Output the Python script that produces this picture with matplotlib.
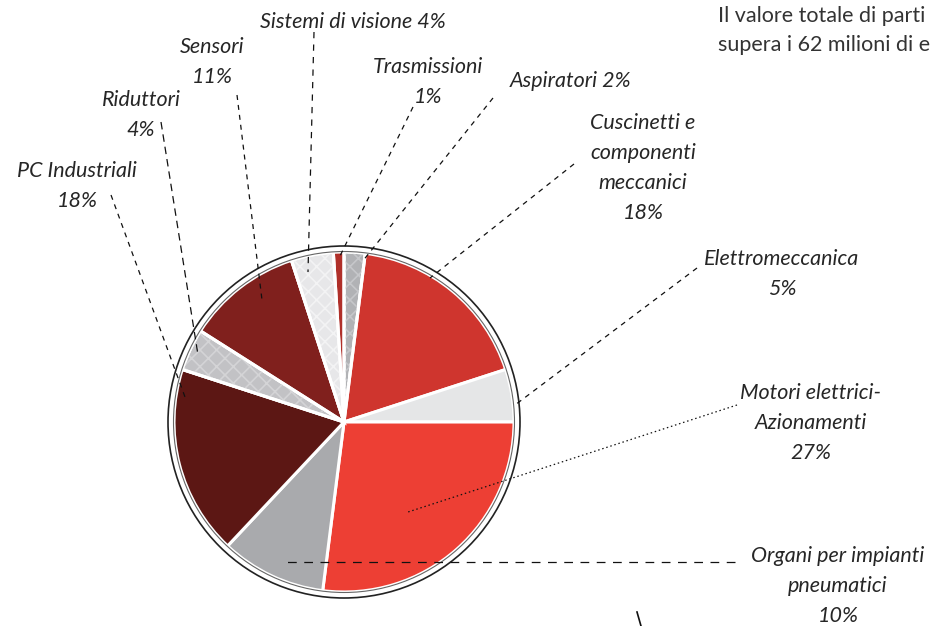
import matplotlib
matplotlib.use('Agg')
import matplotlib.pyplot as plt
from matplotlib.patches import Circle, Wedge

W, H = 938, 626

# slices, clockwise from 12 o'clock
names = ['Aspiratori', 'Cuscinetti e\ncomponenti\nmeccanici', 'Elettromeccanica',
         'Motori elettrici-\nAzionamenti', 'Organi per impianti\npneumatici',
         'PC Industriali', 'Riduttori', 'Sensori', 'Sistemi di visione', 'Trasmissioni']
shares = [2, 18, 5, 27, 10, 18, 4, 11, 4, 1]
colors = ['#b1b2b5', '#cf352e', '#e5e6e7', '#ed3f34', '#a9aaad',
          '#5c1714', '#c2c2c5', '#80201d', '#e7e7e9', '#b0302a']
pattern = [('x', '#c6c7ca'), None, None, None, None,
           None, ('x', '#d4d4d6'), None, ('x', '#f3f3f4'), None]
one_line = [True, False, False, False, False, False, False, False, True, False]
title_lines = ['Il valore totale di parti', 'supera i 62 milioni di e']

# label layout (pixels from top-left): text centre, leader start, leader end, style
label_pos = [(571, 81), (643, 168), (782, 274), (811, 423), (838, 586),
             (77, 186), (141, 115), (212, 62), (353, 22), (428, 82)]
leader = [((493, 98), (362, 262)), ((574, 164), (430, 278)), ((697, 268), (515, 405)),
          ((737, 405), (408, 512)), ((735, 562), (286, 562)), ((111, 195), (185, 397)),
          ((161, 122), (198, 355)), ((237, 95), (262, 300)), ((314, 32), (308, 272)),
          ((413, 107), (340, 256))]
leader_ls = [(0, (4, 4)), (0, (4, 4)), (0, (4, 4)), (0, (1.2, 2.2)), (0, (7, 6)),
             (0, (4, 4)), (0, (6, 4)), (0, (4, 4)), (0, (5, 5)), (0, (4, 4))]

CX, CY, R = 344, 422, 170


def py(y):
    return H - y


fig = plt.figure(figsize=(W / 100, H / 100), dpi=100)
ax = fig.add_axes([0, 0, 1, 1])

wedges, _ = ax.pie(shares, colors=colors, startangle=90, counterclock=False,
                   center=(CX, py(CY)), radius=R,
                   wedgeprops=dict(edgecolor='white', linewidth=2.2))

plt.rcParams['hatch.linewidth'] = 1.2
for w, p in zip(wedges, pattern):
    if p is None:
        continue
    ax.add_patch(Wedge(w.center, w.r, w.theta1, w.theta2, fill=False,
                       hatch=p[0] * 2, edgecolor=p[1], lw=0, zorder=2))
    ax.add_patch(Wedge(w.center, w.r, w.theta1, w.theta2, fill=False,
                       edgecolor='white', lw=2.2, zorder=3))

ax.add_patch(Circle((CX, py(CY)), R + 0.5, fill=False, ec='#666666', lw=0.8, zorder=4))
ax.add_patch(Circle((CX, py(CY)), R + 6, fill=False, ec='#222222', lw=1.2, zorder=4))

font = dict(family=['Lato', 'DejaVu Sans'], style='italic',
            fontsize=15.5, color='#262626')
for name, s, single, (tx, ty), (a, b), ls in zip(names, shares, one_line,
                                                  label_pos, leader, leader_ls):
    txt = f'{name} {s}%' if single else f'{name}\n{s}%'
    ax.text(tx, py(ty), txt, ha='center', va='center', linespacing=1.62,
            zorder=6, **font)
    ax.plot([a[0], b[0]], [py(a[1]), py(b[1])], color='#111111', lw=0.9,
            linestyle=ls, zorder=5)

# stray mark at bottom edge
ax.plot([637, 641], [py(612), py(626)], color='#111111', lw=1.2)

for i, line in enumerate(title_lines):
    ax.text(718, py(16 + 29 * i), line, ha='left', va='center',
            family=['Lato', 'DejaVu Sans'], fontsize=15.5, color='#333333')

ax.set_xlim(0, W)
ax.set_ylim(0, H)
ax.set_aspect('equal')
ax.axis('off')

fig.savefig('out.png', dpi=100)
